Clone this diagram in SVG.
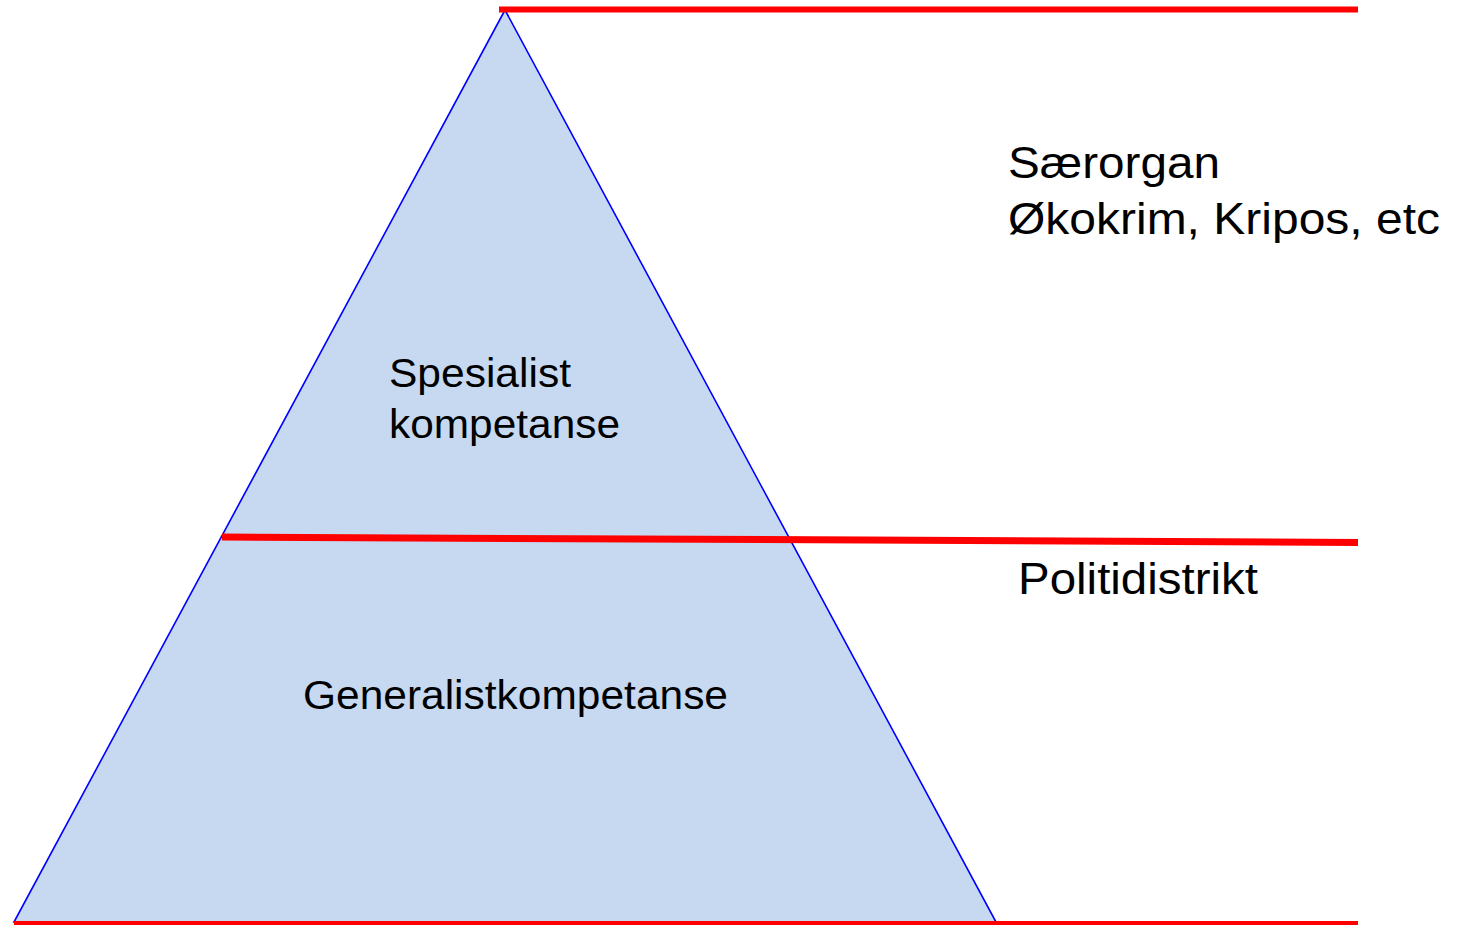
<svg xmlns="http://www.w3.org/2000/svg" width="1463" height="925" viewBox="0 0 1463 925">
  <style>
    .lbl { font-family: "Liberation Sans", Arial, sans-serif; fill: #000000; }
    .red { stroke: #FF0000; fill: none; stroke-linecap: butt; }
  </style>
  <rect width="1463" height="925" fill="#FFFFFF"/>
  <g id="pyramid">
    <polygon points="505,10 14,922 996,922" fill="#C6D9F1" stroke="#0000FF" stroke-width="1.6"/>
  </g>
  <g id="connectors">
    <line class="red" x1="499" y1="9.5" x2="1358" y2="9.5" stroke-width="6"/>
    <line class="red" x1="222" y1="537" x2="1358" y2="542.5" stroke-width="7"/>
    <line class="red" x1="14" y1="923" x2="1358" y2="923" stroke-width="4"/>
  </g>
  <g id="spesialist">
    <text class="lbl" x="389" y="387" font-size="40" textLength="182" lengthAdjust="spacingAndGlyphs">Spesialist</text>
    <text class="lbl" x="389" y="438" font-size="40" textLength="231" lengthAdjust="spacingAndGlyphs">kompetanse</text>
  </g>
  <g id="generalist">
    <text class="lbl" x="303" y="709" font-size="40" textLength="425" lengthAdjust="spacingAndGlyphs">Generalistkompetanse</text>
  </g>
  <g id="saerorgan">
    <text class="lbl" x="1008" y="178" font-size="45" textLength="212" lengthAdjust="spacingAndGlyphs">Særorgan</text>
    <text class="lbl" x="1008" y="234" font-size="45" textLength="432" lengthAdjust="spacingAndGlyphs">Økokrim, Kripos, etc</text>
  </g>
  <g id="politidistrikt">
    <text class="lbl" x="1018" y="594" font-size="45" textLength="240" lengthAdjust="spacingAndGlyphs">Politidistrikt</text>
  </g>
</svg>
